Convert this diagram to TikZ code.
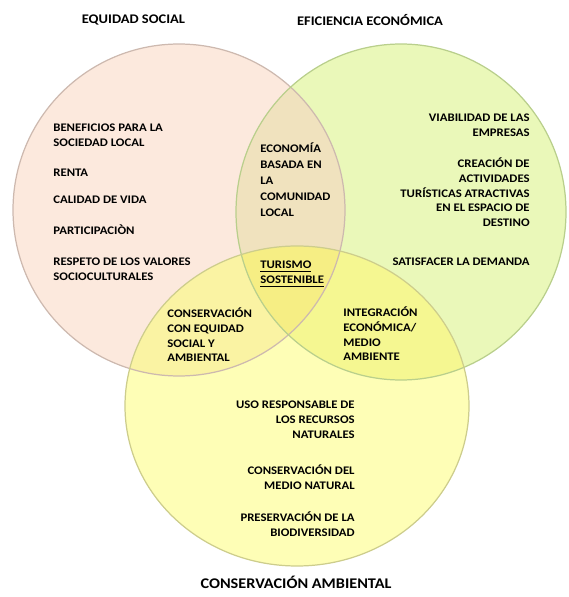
\documentclass[tikz,border=0pt]{standalone}
\usepackage{fontspec}
\setmainfont{Carlito}[FakeStretch=1.1]
\usepackage{tikz}

\definecolor{socfill}{RGB}{252,233,221}
\definecolor{ecofill}{RGB}{234,248,185}
\definecolor{ambfill}{RGB}{254,254,182}
\definecolor{soceco}{RGB}{240,226,190}
\definecolor{socamb}{RGB}{250,243,163}
\definecolor{ecoamb}{RGB}{245,247,145}
\definecolor{allfill}{RGB}{246,238,132}
\definecolor{socline}{RGB}{205,185,175}
\definecolor{ecoline}{RGB}{185,207,140}
\definecolor{ambline}{RGB}{205,205,140}

\tikzset{
  head/.style={inner sep=0pt, font=\fontsize{7.5}{9}\selectfont\bfseries},
  txt/.style={inner sep=0pt, font=\fontsize{6.6}{8.4}\selectfont\bfseries},
  txtl/.style={txt, anchor=north west, align=left},
  txtr/.style={txt, anchor=north east, align=right}
}

\begin{document}
\begin{tikzpicture}

\useasboundingbox (0,0) rectangle (11.38,11.94);

%% circles
\fill[socfill] (3.58,7.74) circle (3.32);                        %% social
\fill[ecofill] (8.02,7.70) ellipse (3.30 and 3.36);              %% economica
\begin{scope}
  \clip (3.58,7.74) circle (3.32);
  \fill[soceco] (8.02,7.70) ellipse (3.30 and 3.36);
\end{scope}
\fill[ambfill] (5.94,3.82) ellipse (3.44 and 3.20);              %% ambiental
\begin{scope}
  \clip (5.94,3.82) ellipse (3.44 and 3.20);
  \fill[socamb] (3.58,7.74) circle (3.32);
  \fill[ecoamb] (8.02,7.70) ellipse (3.30 and 3.36);
  \clip (3.58,7.74) circle (3.32);
  \fill[allfill] (8.02,7.70) ellipse (3.30 and 3.36);
\end{scope}

%% outlines
\draw[socline, line width=0.7pt] (3.58,7.74) circle (3.32);
\draw[ecoline, line width=0.7pt] (8.02,7.70) ellipse (3.30 and 3.36);
\draw[ambline, line width=0.7pt] (5.94,3.82) ellipse (3.44 and 3.20);

%% titles
\node[head] (equidad) at (2.67,11.54) {EQUIDAD SOCIAL};
\node[head] (eficiencia) at (7.40,11.54) {EFICIENCIA ECONÓMICA};
\node[head, font=\fontsize{8.4}{10}\selectfont\bfseries] (ambiental) at (5.92,0.29) {CONSERVACIÓN AMBIENTAL};

%% equidad social
\node[txtl] (benef) at (1.06,9.46) {BENEFICIOS PARA LA\\SOCIEDAD LOCAL};
\node[txtl] (renta) at (1.06,8.56) {RENTA};
\node[txtl] (calidad) at (1.06,8.02) {CALIDAD DE VIDA};
\node[txtl] (partic) at (1.06,7.45) {PARTICIPACIÒN};
\node[txtl] (respeto) at (1.06,6.78) {RESPETO DE LOS VALORES\\SOCIOCULTURALES};

%% eficiencia economica
\node[txtr] (viab) at (10.60,9.66) {VIABILIDAD DE LAS\\EMPRESAS};
\node[txtr] (creac) at (10.60,8.79) {CREACIÓN DE\\ACTIVIDADES\\TURÍSTICAS ATRACTIVAS\\EN EL ESPACIO DE\\DESTINO};
\node[txtr] (satisf) at (10.60,6.78) {SATISFACER LA DEMANDA};

%% conservacion ambiental
\node[txtr] (uso) at (7.10,3.92) {USO RESPONSABLE DE\\LOS RECURSOS\\NATURALES};
\node[txtr] (medio) at (7.10,2.65) {CONSERVACIÓN DEL\\MEDIO NATURAL};
\node[txtr] (biodiv) at (7.10,1.71) {PRESERVACIÓN DE LA\\BIODIVERSIDAD};

%% intersecciones
\node[txtl, font=\fontsize{6.6}{9.1}\selectfont\bfseries] (comunidad) at (5.20,9.09) {ECONOMÍA\\BASADA EN\\LA\\COMUNIDAD\\LOCAL};
\node[txtl] (turismo) at (5.20,6.72) {\underline{TURISMO}\\\underline{SOSTENIBLE}};
\node[txtl] (equamb) at (3.34,5.79) {CONSERVACIÓN\\CON EQUIDAD\\SOCIAL Y\\AMBIENTAL};
\node[txtl] (integr) at (6.86,5.81) {INTEGRACIÓN\\ECONÓMICA/\\MEDIO\\AMBIENTE};

\end{tikzpicture}
\end{document}
